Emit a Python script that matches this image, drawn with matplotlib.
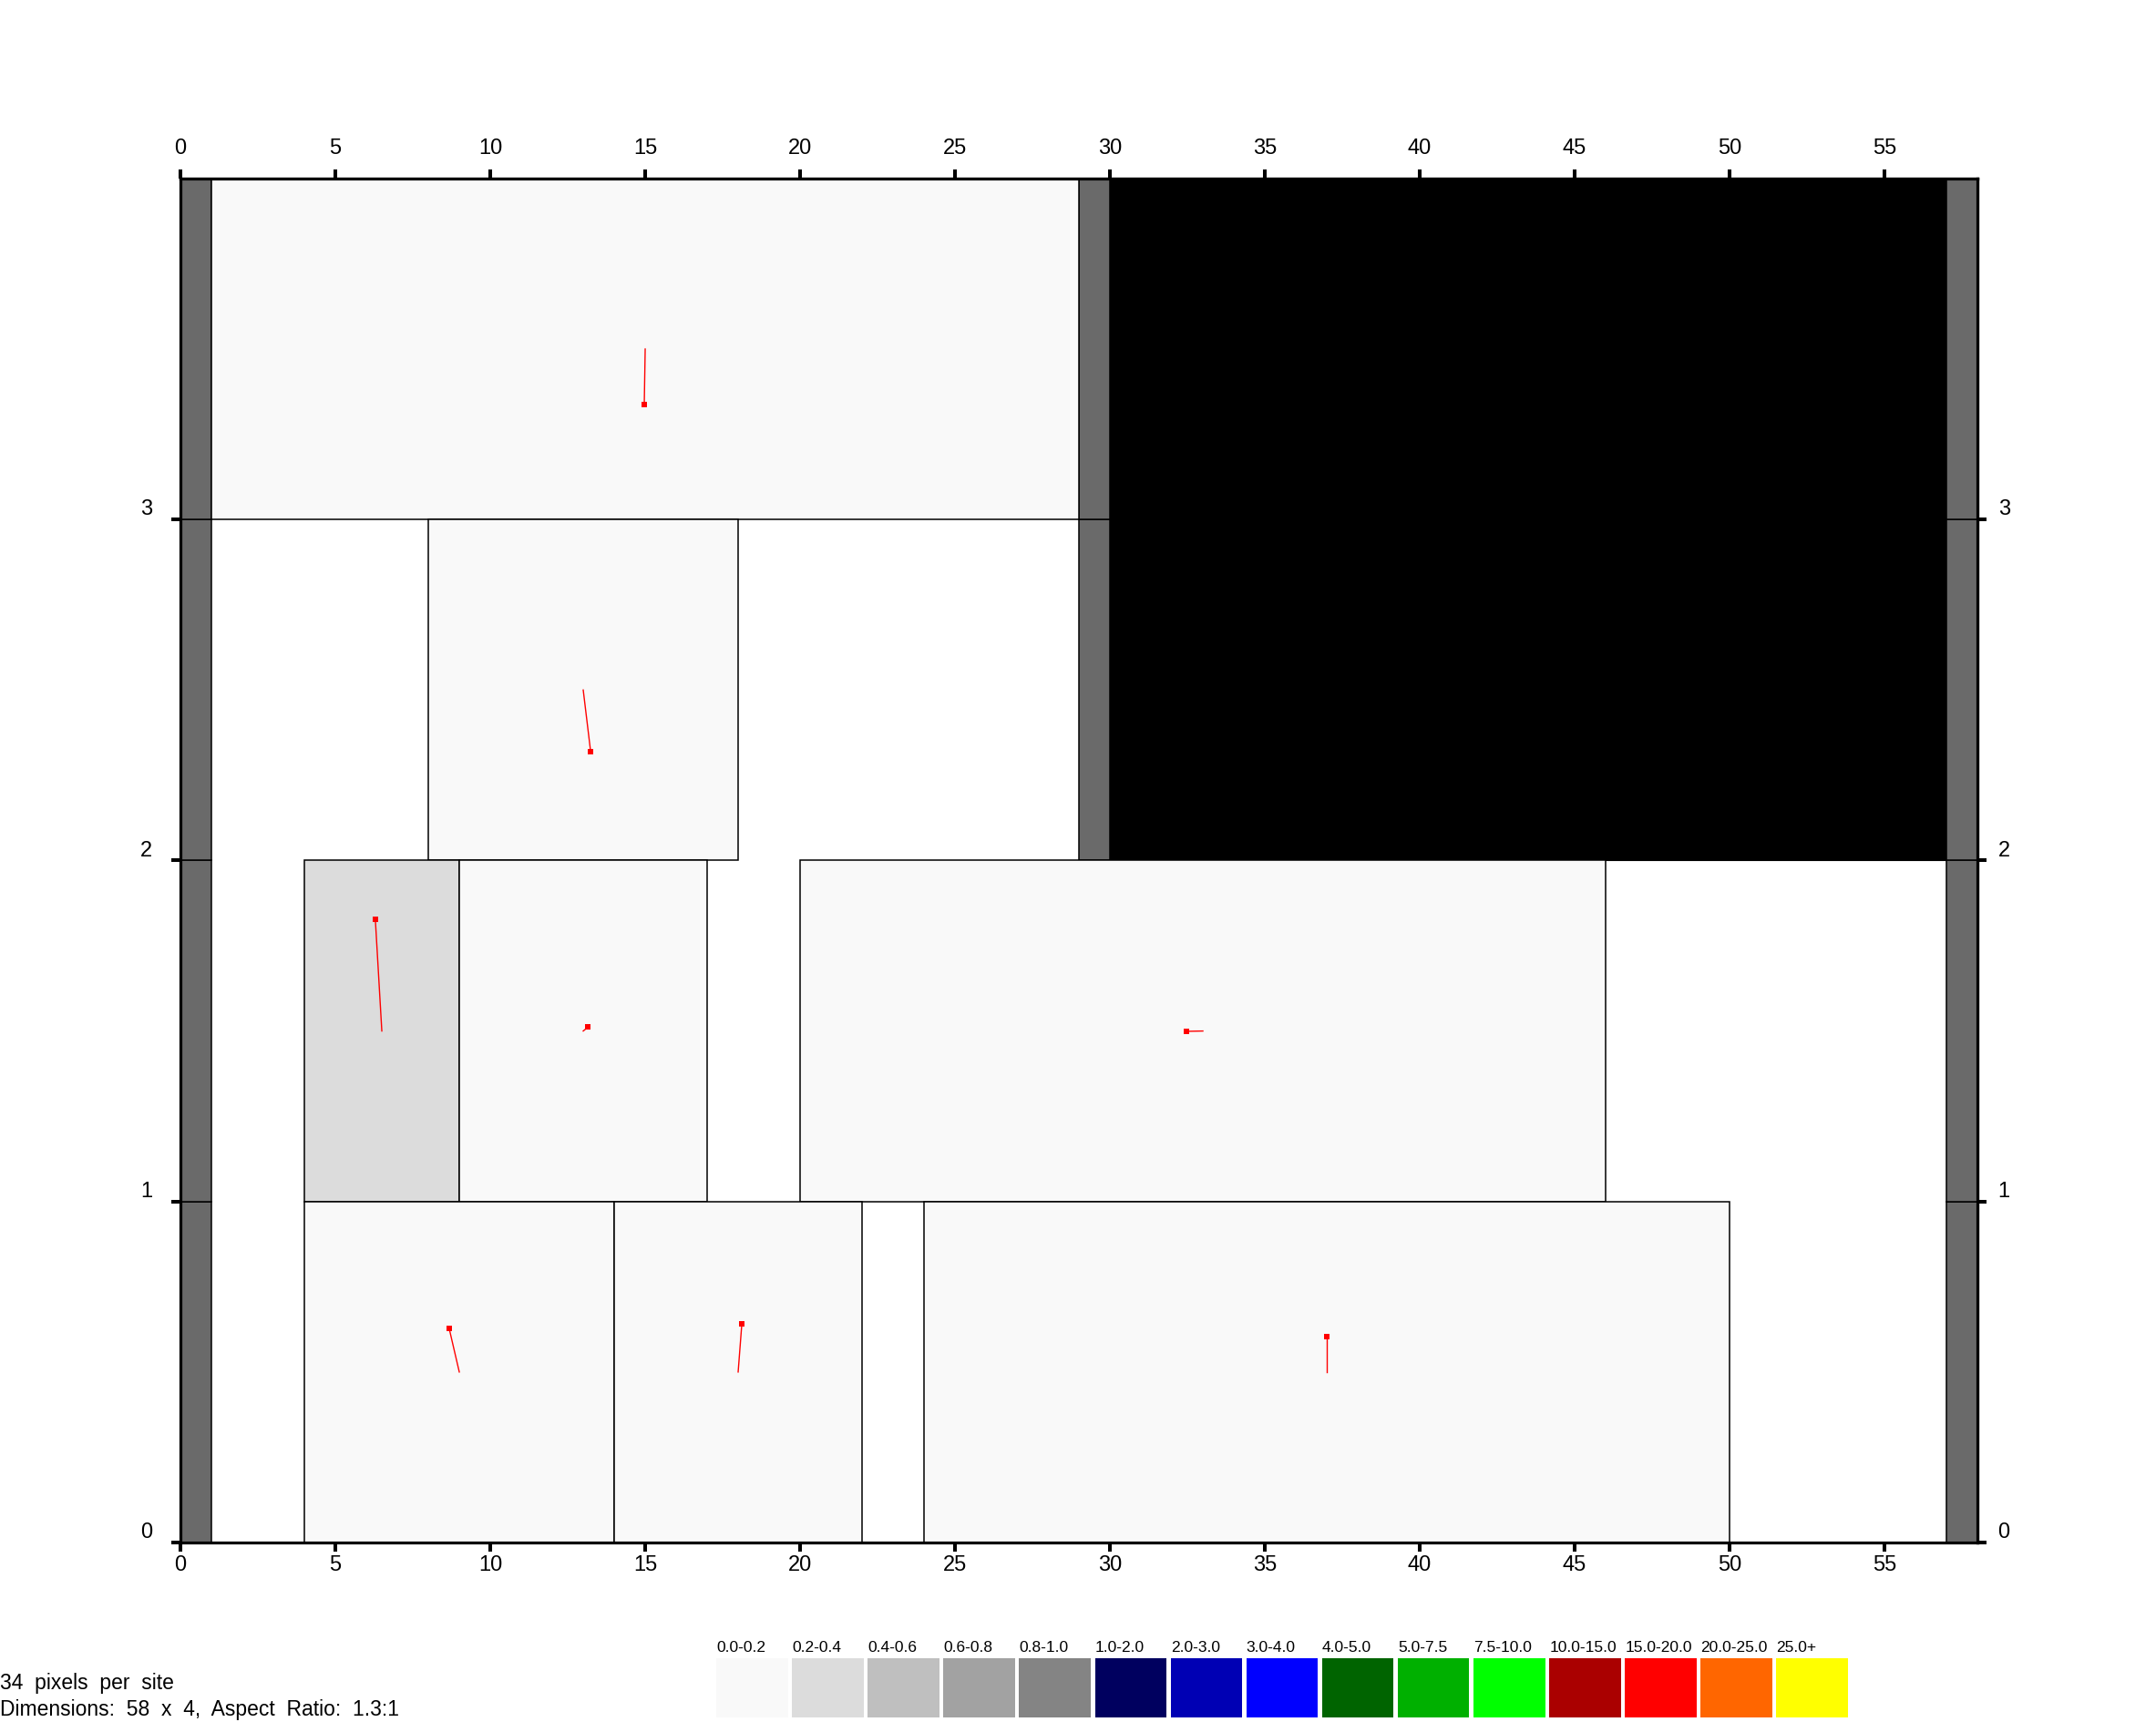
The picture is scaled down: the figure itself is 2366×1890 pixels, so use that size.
import numpy as np
import matplotlib
matplotlib.use("Agg")
import matplotlib.pyplot as plt
from matplotlib.patches import Rectangle

plt.rcParams['font.family'] = ['Liberation Sans', 'DejaVu Sans']

# grid size (sites)
n_cols = 58
n_rows = 4

# placed blocks
blk_x0 = [1, 8, 4, 9, 20, 4, 14, 24]
blk_x1 = [29, 18, 9, 17, 46, 14, 22, 50]
blk_y0 = [3, 2, 1, 1, 1, 0, 0, 0]
blk_y1 = [4, 3, 2, 2, 2, 1, 1, 1]
blk_val = [0.1, 0.1, 0.3, 0.1, 0.1, 0.1, 0.1, 0.1]

# tip of the red vector drawn from each block centre
tip_x = [14.97, 13.24, 6.29, 13.15, 32.47, 8.67, 18.12, 37.0]
tip_y = [3.337, 2.319, 1.828, 1.511, 1.499, 0.629, 0.642, 0.605]

# io / pad cells (grey) and the blocked region (black)
pad_x = [0, 0, 0, 0, 57, 57, 57, 57, 29, 29]
pad_y = [0, 1, 2, 3, 0, 1, 2, 3, 2, 3]
blocked = (30, 2, 57, 4)

# colour legend
leg_labels = ['0.0-0.2', '0.2-0.4', '0.4-0.6', '0.6-0.8', '0.8-1.0', '1.0-2.0',
              '2.0-3.0', '3.0-4.0', '4.0-5.0', '5.0-7.5', '7.5-10.0', '10.0-15.0',
              '15.0-20.0', '20.0-25.0', '25.0+']
leg_edges = [0.0, 0.2, 0.4, 0.6, 0.8, 1.0, 2.0, 3.0, 4.0, 5.0, 7.5, 10.0, 15.0, 20.0, 25.0]
leg_colors = ['#f9f9f9', '#dcdcdc', '#bfbfbf', '#a2a2a2', '#848484', '#00005f',
              '#0000b4', '#0000ff', '#006400', '#00b000', '#00ff00', '#aa0000',
              '#ff0000', '#ff6600', '#ffff00']

W, H = 2366, 1890
fig = plt.figure(figsize=(W / 100 + 0.001, H / 100 + 0.001), dpi=100)
ax = fig.add_axes([198 / W, 197 / H, 1972 / W, 1497 / H])
ax.set_xlim(0, n_cols)
ax.set_ylim(0, n_rows)

# blocked area
bx0, by0, bx1, by1 = blocked
ax.add_patch(Rectangle((bx0, by0), bx1 - bx0, by1 - by0, facecolor='black',
                       edgecolor='black', lw=0.8, zorder=1))

# pads
for px, py in zip(pad_x, pad_y):
    ax.add_patch(Rectangle((px, py), 1, 1, facecolor='#6a6a6a', edgecolor='black',
                           lw=1.1, zorder=2))

# blocks
for x0, x1, y0, y1, v in zip(blk_x0, blk_x1, blk_y0, blk_y1, blk_val):
    c = leg_colors[np.digitize(v, leg_edges) - 1]
    ax.add_patch(Rectangle((x0, y0), x1 - x0, y1 - y0, facecolor=c, edgecolor='black',
                           lw=1.1, zorder=2))

# vectors
for x0, x1, y0, y1, tx, ty in zip(blk_x0, blk_x1, blk_y0, blk_y1, tip_x, tip_y):
    cx, cy = (x0 + x1) / 2, (y0 + y1) / 2
    ax.plot([cx, tx], [cy, ty], color='red', lw=1.0, zorder=3)
    ax.plot(tx, ty, marker='s', color='red', ms=4.5, mew=0, zorder=4)

for s in ax.spines.values():
    s.set_linewidth(2.3)
    s.set_zorder(5)

xt = np.arange(0, 56, 5)
yt = np.arange(0, 4)
ax.set_xticks(xt)
ax.set_yticks(yt)
ax.tick_params(axis='x', direction='out', length=7.2, width=2.9, pad=2.5, labelsize=17)
ax.tick_params(axis='y', direction='out', length=7.2, width=2.9, pad=15, labelsize=17)
for lbl in ax.get_yticklabels():
    lbl.set_va('bottom')

secx = ax.secondary_xaxis('top')
secx.set_xticks(xt)
secx.tick_params(direction='out', length=7.2, width=2.9, pad=9, labelsize=17)
secx.spines['top'].set_linewidth(2.3)

secy = ax.secondary_yaxis('right')
secy.set_yticks(yt)
secy.tick_params(direction='out', length=7.2, width=2.9, pad=9, labelsize=17)
secy.spines['right'].set_linewidth(2.3)
for lbl in secy.get_yticklabels():
    lbl.set_va('bottom')

# legend strip
pitch = 83.1
box_w = 78.5
ax_leg = fig.add_axes([786 / W, 5 / H, (14 * pitch + box_w) / W, 65 / H])
ax_leg.set_xlim(0, 14 + box_w / pitch)
ax_leg.set_ylim(0, 1)
idx = np.arange(len(leg_labels))
ax_leg.bar(idx, 1, width=box_w / pitch, align='edge', color=leg_colors, edgecolor='none')
for i, lab in zip(idx, leg_labels):
    ax_leg.text(i, 1.07, lab, ha='left', va='bottom', fontsize=12.5, clip_on=False)
ax_leg.axis('off')

fig.text(0.0, 1 - 1847 / H, '34  pixels  per  site', ha='left', va='center', fontsize=16.5)
fig.text(0.0, 1 - 1876 / H, 'Dimensions:  58  x  4,  Aspect  Ratio:  1.3:1',
         ha='left', va='center', fontsize=16.5)

fig.savefig('out.png', dpi=100, facecolor='white')
